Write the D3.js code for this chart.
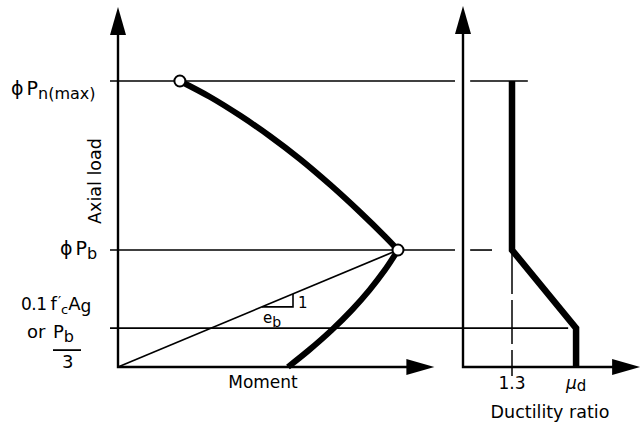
<html>
    <head>
        <script src="https://d3js.org/d3.v7.min.js"></script>
        <style>
            body { margin: 0; background: #fff; }
            text { font-family: "DejaVu Sans", sans-serif; fill: #000; }
        </style>
    </head>
    <body>
        <script>
// axial load levels (fraction of phi Pn(max))
var levelKeys = ["pmax", "pb", "plow"];
var levelLoads = [1.0, 0.409, 0.136];

// interaction curve, [moment, load]; moment in units of Mb
var upperCurve = [[0.221, 1.0], [0.329, 0.944], [0.436, 0.879], [0.543, 0.807],
    [0.650, 0.727], [0.757, 0.638], [0.864, 0.542], [0.954, 0.456], [1.0, 0.409]];
var lowerCurve = [[1.0, 0.409], [0.953, 0.339], [0.898, 0.269], [0.835, 0.199],
    [0.763, 0.129], [0.682, 0.059], [0.607, 0.0]];

// ductility ratio requirement
var ductMu = [1.3, 1.3, 3.0, 3.0];
var ductLoad = [1.0, 0.409, 0.136, 0.0];
var ductTickValues = [1.3, 3.0];
var ductTickLabels = ["1.3", "μ"];

var width = 643, height = 426;

var xM = d3.scaleLinear().domain([0, 1]).range([118, 398]);
var yP = d3.scaleLinear().domain([0, 1]).range([367, 81]);
var xD = d3.scaleLinear().domain([0, 1.3]).range([463, 512]);

var svg = d3.select("body").append("svg")
    .attr("width", width)
    .attr("height", height);

function arrow(g, x, y, dir) {
    // filled arrow head, tip at x,y
    var L = 28, H = 8, p;
    if (dir == "up") p = [[x, y], [x - H, y + L], [x + H, y + L]];
    else p = [[x, y], [x - L, y - H], [x - L, y + H]];
    g.append("path")
        .attr("d", "M" + p.join("L") + "Z")
        .attr("fill", "#000");
}

var lines = svg.append("g").attr("stroke", "#000").attr("fill", "none");

// reference load lines, left panel
lines.selectAll("line.lvl")
    .data(levelLoads)
    .enter()
    .append("line")
    .attr("x1", 110)
    .attr("x2", (d, i) => i == 2 ? xD(2.79) : 455)
    .attr("y1", d => yP(d))
    .attr("y2", d => yP(d))
    .attr("stroke-width", 1.6);

// reference load lines, right panel
var rightSegs = [[0.19, 1.72, levelLoads[0]], [0.19, 0.77, levelLoads[1]]];
lines.selectAll("line.rlvl")
    .data(rightSegs)
    .enter()
    .append("line")
    .attr("x1", d => xD(d[0]))
    .attr("x2", d => xD(d[1]))
    .attr("y1", d => yP(d[2]))
    .attr("y2", d => yP(d[2]))
    .attr("stroke-width", 1.6);

// dashed 1.3 line
lines.append("line")
    .attr("x1", xD(1.3)).attr("x2", xD(1.3))
    .attr("y1", yP(levelLoads[1])).attr("y2", yP(0) + 9)
    .attr("stroke-width", 1.5)
    .attr("stroke-dasharray", "44,6");

// balanced eccentricity line
var pb = levelLoads[1];
lines.append("line")
    .attr("x1", xM(0)).attr("y1", yP(0))
    .attr("x2", xM(1)).attr("y2", yP(pb))
    .attr("stroke-width", 1.7);

// slope triangle
var m1 = 0.514, m2 = 0.625;
lines.append("path")
    .attr("d", "M" + xM(m1) + "," + yP(pb * m1) + "H" + xM(m2) + "V" + yP(pb * m2))
    .attr("stroke-width", 1.6);

// axes
var axes = svg.append("g");
axes.append("path")
    .attr("d", "M" + xM(0) + ",20V" + yP(0) + "H" + (xM(1.13) - 10))
    .attr("stroke", "#000").attr("stroke-width", 2.4).attr("fill", "none");
arrow(axes, xM(0), 7, "up");
arrow(axes, xM(1.13), yP(0), "right");

axes.append("path")
    .attr("d", "M" + xD(0) + ",20V" + yP(0) + "H" + (xD(4.7) - 10))
    .attr("stroke", "#000").attr("stroke-width", 2.4).attr("fill", "none");
arrow(axes, xD(0), 6, "up");
arrow(axes, xD(4.7), yP(0), "right");

// interaction curve
var curve = d3.line()
    .x(d => xM(d[0]))
    .y(d => yP(d[1]))
    .curve(d3.curveCatmullRom);

svg.append("path")
    .attr("d", curve(upperCurve))
    .attr("stroke", "#000").attr("stroke-width", 6).attr("fill", "none");
svg.append("path")
    .attr("d", curve(lowerCurve))
    .attr("stroke", "#000").attr("stroke-width", 6).attr("fill", "none");

// ductility line
var ductPts = ductMu.map((m, i) => [m, ductLoad[i]]);
svg.append("path")
    .attr("d", d3.line().x(d => xD(d[0])).y(d => yP(d[1]))(ductPts))
    .attr("stroke", "#000").attr("stroke-width", 6.5)
    .attr("stroke-linejoin", "miter").attr("fill", "none");

// points
svg.selectAll("circle.pt")
    .data([upperCurve[0], lowerCurve[0]])
    .enter()
    .append("circle")
    .attr("cx", d => xM(d[0]))
    .attr("cy", d => yP(d[1]))
    .attr("r", 5.5)
    .attr("fill", "#fff")
    .attr("stroke", "#000")
    .attr("stroke-width", 2);

// labels
var t = svg.append("g");

var l1 = t.append("text").attr("x", 11).attr("y", yP(levelLoads[0]) + 14).attr("font-size", 19);
l1.append("tspan").text("ϕ");
l1.append("tspan").attr("dx", 3).text("P");
l1.append("tspan").attr("font-size", 16).attr("dy", 4).text("n(max)");

var l2 = t.append("text").attr("x", 60).attr("y", yP(levelLoads[1]) + 5).attr("font-size", 19);
l2.append("tspan").text("ϕ");
l2.append("tspan").attr("dx", 3).text("P");
l2.append("tspan").attr("font-size", 16).attr("dy", 4).text("b");

var yl = yP(levelLoads[2]);
var l3 = t.append("text").attr("x", 21).attr("y", yl - 18).attr("font-size", 17);
l3.append("tspan").attr("letter-spacing", -0.5).text("0.1");
l3.append("tspan").attr("dx", 4).attr("font-size", 18).text("f");
l3.append("tspan").attr("font-size", 14).attr("dx", 1).attr("dy", -4).text("′");
l3.append("tspan").attr("font-size", 13).attr("dy", 8).text("c");
l3.append("tspan").attr("font-size", 18).attr("dy", -4).text("A");
l3.append("tspan").attr("font-size", 17).attr("dy", 2).text("g");

var l4 = t.append("text").attr("x", 27).attr("y", yl + 10).attr("font-size", 18);
l4.append("tspan").text("or");
l4.append("tspan").attr("x", 53).text("P");
l4.append("tspan").attr("font-size", 16).attr("dy", 4).text("b");
t.append("line").attr("x1", 53).attr("x2", 81).attr("y1", yl + 22).attr("y2", yl + 22)
    .attr("stroke", "#000").attr("stroke-width", 1.8);
t.append("text").attr("x", 62).attr("y", yl + 40).attr("font-size", 18).text("3");

t.append("text")
    .attr("transform", "translate(101,181) rotate(-90)")
    .attr("text-anchor", "middle")
    .attr("font-size", 17.5)
    .text("Axial load");

t.append("text").attr("x", 263).attr("y", 388).attr("text-anchor", "middle")
    .attr("font-size", 17).text("Moment");

// slope labels
t.append("text").attr("x", xM(m2) + 5).attr("y", yP(pb * m1) + 1).attr("font-size", 15).text("1");
var eb = t.append("text").attr("x", xM(m1) + 1).attr("y", yP(pb * m1) + 16).attr("font-size", 15);
eb.append("tspan").text("e");
eb.append("tspan").attr("font-size", 14).attr("dy", 4).text("b");

// ductility ticks
t.selectAll("text.dt")
    .data(ductTickValues)
    .enter()
    .append("text")
    .attr("x", d => xD(d))
    .attr("y", 389)
    .attr("text-anchor", "middle")
    .attr("font-size", 17)
    .each(function(d, i) {
        var s = d3.select(this);
        if (i == 0) s.text(ductTickLabels[i]);
        else {
            s.append("tspan").attr("font-style", "italic").text(ductTickLabels[i]);
            s.append("tspan").attr("font-size", 15).attr("dy", 2).text("d");
        }
    });

t.append("text").attr("x", 550).attr("y", 418).attr("text-anchor", "middle")
    .attr("font-size", 17.5).text("Ductility ratio");
        </script>
    </body>
</html>
